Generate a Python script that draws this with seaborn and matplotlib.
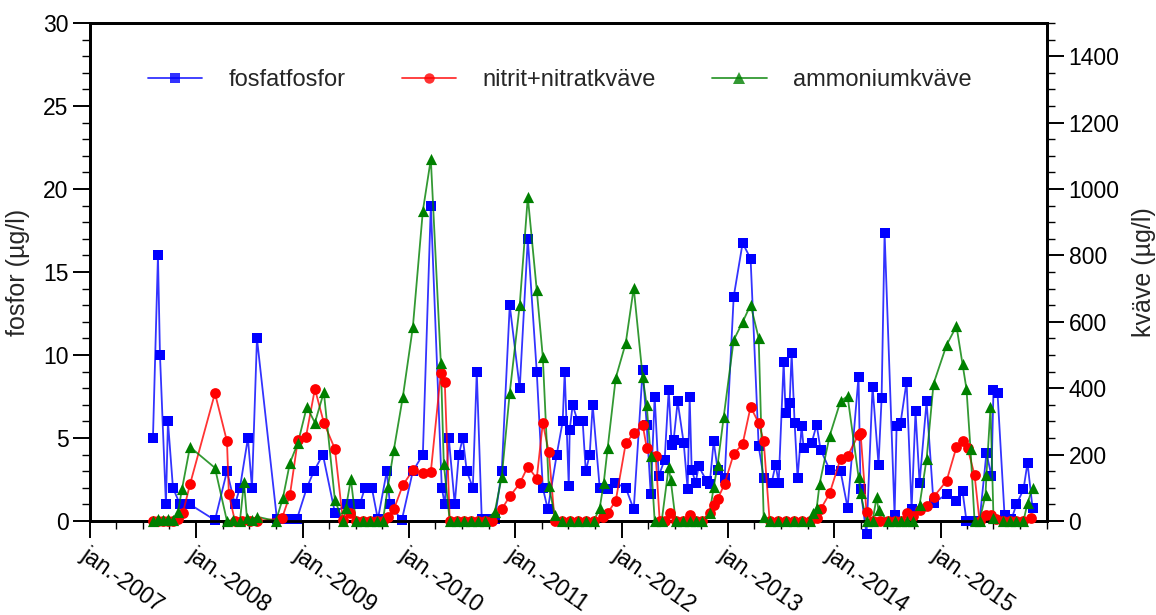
import numpy as np
import pandas as pd
import matplotlib
matplotlib.use("Agg")
import matplotlib.pyplot as plt
import matplotlib.dates as mdates
from matplotlib.lines import Line2D
import seaborn as sns

# ---------------- data (dates as decimal years) ----------------
fosfat_t = [2007.592, 2007.639, 2007.658, 2007.714, 2007.733, 2007.780, 2007.846, 2007.893, 2007.940,
            2008.175, 2008.288, 2008.363, 2008.410, 2008.485, 2008.523, 2008.570, 2008.758, 2008.852, 2008.945,
            2009.039, 2009.105, 2009.190, 2009.303, 2009.415, 2009.472, 2009.538, 2009.585, 2009.650, 2009.707,
            2009.791, 2009.820, 2009.932, 2010.036, 2010.130, 2010.205, 2010.308, 2010.336, 2010.374, 2010.430,
            2010.468, 2010.506, 2010.543, 2010.600, 2010.637, 2010.684, 2010.741, 2010.806, 2010.872, 2010.947,
            2011.041, 2011.117, 2011.201, 2011.258, 2011.305, 2011.389, 2011.445, 2011.464, 2011.502, 2011.511,
            2011.539, 2011.586, 2011.633, 2011.662, 2011.699, 2011.727, 2011.793, 2011.868, 2011.934, 2012.038,
            2012.113, 2012.197, 2012.235, 2012.273, 2012.310, 2012.348, 2012.404, 2012.442, 2012.470, 2012.489,
            2012.526, 2012.583, 2012.620, 2012.639, 2012.658, 2012.695, 2012.724, 2012.799, 2012.827, 2012.865,
            2012.902, 2012.968, 2013.053, 2013.137, 2013.212, 2013.288, 2013.335, 2013.410, 2013.447, 2013.476,
            2013.523, 2013.541, 2013.579, 2013.598, 2013.626, 2013.654, 2013.692, 2013.711, 2013.786, 2013.833,
            2013.870, 2013.955, 2014.058, 2014.124, 2014.227, 2014.246, 2014.302, 2014.359, 2014.415, 2014.444,
            2014.472, 2014.566, 2014.585, 2014.622, 2014.679, 2014.726, 2014.763, 2014.801, 2014.867, 2014.932,
            2015.055, 2015.148, 2015.205, 2015.242, 2015.299, 2015.365, 2015.430, 2015.477, 2015.496, 2015.534,
            2015.600, 2015.665, 2015.712, 2015.778, 2015.816, 2015.863]
fosfat_v = [5.0, 16.0, 10.0, 1.0, 6.0, 2.0, 1.0, 1.0, 1.0,
            0.05, 3.0, 1.0, 2.0, 5.0, 2.0, 11.0, 0.1, 0.1, 0.1,
            2.0, 3.0, 4.0, 0.5, 1.0, 1.0, 1.0, 2.0, 2.0, 0.1,
            3.0, 1.0, 0.05, 3.0, 4.0, 19.0, 2.0, 1.0, 5.0, 1.0,
            4.0, 5.0, 3.0, 2.0, 9.0, 0.1, 0.1, 0.1, 3.0, 13.0,
            8.0, 17.0, 9.0, 2.0, 0.7, 4.0, 6.0, 9.0, 2.1, 5.5,
            7.0, 6.0, 6.0, 3.0, 4.0, 7.0, 2.0, 1.9, 2.3, 2.0,
            0.7, 9.1, 5.8, 1.6, 7.5, 2.7, 3.7, 7.9, 4.6, 4.9,
            7.2, 4.7, 1.9, 7.5, 3.1, 2.3, 3.3, 2.4, 2.2, 4.8,
            3.1, 2.6, 13.5, 16.75, 15.8, 4.5, 2.6, 2.3, 3.4, 2.3,
            9.6, 6.5, 7.1, 10.1, 5.9, 2.6, 5.7, 4.4, 4.7, 5.8,
            4.3, 3.1, 3.0, 0.8, 8.7, 1.9, -0.8, 8.1, 3.4, 7.4,
            17.35, 0.35, 5.7, 5.9, 8.4, 0.7, 6.6, 2.3, 7.2, 1.1,
            1.6, 1.2, 1.8, 0.0, 0.0, 0.0, 4.1, 2.7, 7.9, 7.7,
            0.35, 0.1, 1.0, 1.9, 3.5, 0.8]

nitrat_t = [2007.592, 2007.639, 2007.686, 2007.733, 2007.780, 2007.827, 2007.874, 2007.940,
            2008.175, 2008.288, 2008.306, 2008.363, 2008.429, 2008.504, 2008.570, 2008.805, 2008.880, 2008.955,
            2009.030, 2009.115, 2009.199, 2009.303, 2009.378, 2009.444, 2009.500, 2009.566, 2009.632, 2009.697,
            2009.754, 2009.801, 2009.857, 2009.942, 2010.036, 2010.130, 2010.205, 2010.299, 2010.336, 2010.383,
            2010.449, 2010.515, 2010.581, 2010.647, 2010.712, 2010.778, 2010.872, 2010.947, 2011.041, 2011.117,
            2011.201, 2011.258, 2011.314, 2011.370, 2011.436, 2011.511, 2011.586, 2011.662, 2011.737, 2011.821,
            2011.868, 2011.944, 2012.038, 2012.113, 2012.197, 2012.235, 2012.320, 2012.357, 2012.404, 2012.451,
            2012.508, 2012.573, 2012.639, 2012.695, 2012.752, 2012.827, 2012.865, 2012.902, 2012.968, 2013.053,
            2013.137, 2013.212, 2013.288, 2013.335, 2013.391, 2013.466, 2013.541, 2013.617, 2013.692, 2013.767,
            2013.833, 2013.870, 2013.955, 2014.058, 2014.124, 2014.227, 2014.246, 2014.302, 2014.359, 2014.425,
            2014.500, 2014.566, 2014.622, 2014.679, 2014.735, 2014.801, 2014.867, 2014.932, 2015.055, 2015.148,
            2015.205, 2015.252, 2015.318, 2015.365, 2015.430, 2015.477, 2015.524, 2015.581, 2015.647, 2015.712,
            2015.778, 2015.853]
nitrat_v = [0, 0, 0, 0, 0, 5, 25, 110,
            385, 240, 80, 0, 0, 0, 0, 8, 78, 245,
            252, 398, 296, 217, 3, 24, 0, 0, 0, 0,
            0, 12, 35, 108, 153, 144, 148, 445, 420, 0,
            0, 0, 0, 0, 0, 0, 36, 74, 113, 164,
            128, 295, 209, 0, 0, 0, 0, 0, 0, 13,
            24, 61, 234, 264, 290, 221, 195, 0, 0, 24,
            0, 0, 18, 0, 0, 24, 47, 66, 112, 202,
            232, 344, 295, 242, 0, 0, 0, 0, 0, 0,
            8, 35, 83, 188, 196, 260, 265, 26, 0, 0,
            0, 0, 0, 24, 15, 33, 45, 72, 121, 223,
            241, 220, 139, 0, 18, 18, 5, 0, 0, 0,
            0, 9]

ammonium_t = [2007.592, 2007.639, 2007.686, 2007.733, 2007.780, 2007.827, 2007.865, 2007.940,
              2008.175, 2008.288, 2008.345, 2008.410, 2008.448, 2008.476, 2008.523, 2008.570, 2008.748, 2008.814,
              2008.880, 2008.955, 2009.039, 2009.115, 2009.199, 2009.303, 2009.378, 2009.406, 2009.453, 2009.500,
              2009.566, 2009.632, 2009.697, 2009.754, 2009.801, 2009.857, 2009.942, 2010.036, 2010.130, 2010.205,
              2010.299, 2010.327, 2010.383, 2010.449, 2010.515, 2010.581, 2010.647, 2010.712, 2010.806, 2010.872,
              2010.947, 2011.041, 2011.117, 2011.201, 2011.258, 2011.314, 2011.370, 2011.436, 2011.511, 2011.586,
              2011.662, 2011.737, 2011.793, 2011.831, 2011.868, 2011.944, 2012.038, 2012.113, 2012.197, 2012.235,
              2012.273, 2012.310, 2012.376, 2012.442, 2012.461, 2012.508, 2012.573, 2012.639, 2012.695, 2012.752,
              2012.827, 2012.865, 2012.902, 2012.959, 2013.053, 2013.137, 2013.212, 2013.288, 2013.335, 2013.391,
              2013.466, 2013.541, 2013.617, 2013.692, 2013.767, 2013.795, 2013.833, 2013.861, 2013.955, 2014.058,
              2014.124, 2014.227, 2014.246, 2014.302, 2014.359, 2014.397, 2014.415, 2014.500, 2014.566, 2014.622,
              2014.679, 2014.735, 2014.801, 2014.867, 2014.932, 2015.055, 2015.148, 2015.205, 2015.242, 2015.280,
              2015.318, 2015.365, 2015.421, 2015.430, 2015.468, 2015.496, 2015.581, 2015.647, 2015.712, 2015.778,
              2015.816, 2015.863]
ammonium_v = [0, 5, 2, 5, 3, 27, 96, 223,
              160, 0, 3, 0, 117, 8, 3, 13, 0, 69,
              175, 235, 344, 296, 388, 63, 0, 38, 126, 0,
              0, 0, 0, 0, 102, 214, 374, 584, 934, 1090,
              476, 172, 0, 0, 0, 0, 0, 0, 27, 133,
              386, 651, 976, 696, 494, 105, 18, 0, 0, 0,
              0, 0, 38, 115, 220, 431, 536, 702, 434, 349,
              195, 0, 0, 163, 123, 0, 0, 0, 0, 0,
              24, 102, 169, 313, 545, 599, 651, 551, 12, 0,
              0, 0, 0, 0, 0, 24, 38, 112, 256, 361,
              376, 133, 84, 0, 0, 72, 33, 0, 0, 0,
              0, 0, 48, 187, 413, 530, 587, 473, 398, 217,
              0, 0, 78, 139, 343, 9, 0, 0, 0, 0,
              54, 99]

tick_years = [2007, 2008, 2009, 2010, 2011, 2012, 2013, 2014, 2015]
tick_labels = ["jan.-2007", "jan.-2008", "jan.-2009", "jan.-2010", "jan.-2011",
               "jan.-2012", "jan.-2013", "jan.-2014", "jan.-2015"]
series_names = ["fosfatfosfor", "nitrit+nitratkväve", "ammoniumkväve"]


def to_dates(years):
    y = np.asarray(years, dtype=float)
    return pd.Timestamp("2007-01-01") + pd.to_timedelta((y - 2007) * 365.25, unit="D")


df_p = pd.DataFrame({"date": to_dates(fosfat_t), "value": fosfat_v})
df_n = pd.DataFrame({"date": to_dates(nitrat_t), "value": nitrat_v})
df_a = pd.DataFrame({"date": to_dates(ammonium_t), "value": ammonium_v})

# ---------------- style ----------------
sns.set_style("ticks")
plt.rcParams["font.family"] = ["Liberation Sans", "DejaVu Sans"]
plt.rcParams["axes.linewidth"] = 2.0

BLUE, RED, GREEN = "#0000ff", "#ff0000", "#008000"

fig = plt.figure(figsize=(11.56, 6.15), dpi=100)
ax = fig.add_axes([90 / 1156, 1 - 521 / 615, (1047 - 90) / 1156, (521 - 23) / 615])
ax2 = ax.twinx()

# phosphate on left axis
sns.lineplot(data=df_p, x="date", y="value", ax=ax, color=BLUE, lw=1.3, alpha=0.8,
             estimator=None, sort=False, clip_on=False)
sns.scatterplot(data=df_p, x="date", y="value", ax=ax, color=BLUE, marker="s", s=55,
                linewidth=0, clip_on=False, zorder=3)

# nitrogen on right axis
sns.lineplot(data=df_n, x="date", y="value", ax=ax2, color=RED, lw=1.3, alpha=0.8,
             estimator=None, sort=False, clip_on=False)
sns.scatterplot(data=df_n, x="date", y="value", ax=ax2, color=RED, marker="o", s=60,
                linewidth=0, clip_on=False, zorder=3)
sns.lineplot(data=df_a, x="date", y="value", ax=ax2, color=GREEN, lw=1.3, alpha=0.8,
             estimator=None, sort=False, clip_on=False)
sns.scatterplot(data=df_a, x="date", y="value", ax=ax2, color=GREEN, marker="^", s=65,
                linewidth=0, clip_on=False, zorder=3)

# ---------------- axes ----------------
xmin, xmax = pd.Timestamp("2007-01-01"), pd.Timestamp("2016-01-01")
ax.set_xlim(xmin, xmax)
ax.set_ylim(0, 30)
ax2.set_ylim(0, 1500)

ax.set_yticks(np.arange(0, 31, 5))
ax.yaxis.set_minor_locator(matplotlib.ticker.MultipleLocator(1))
ax2.set_yticks(np.arange(0, 1401, 200))
ax2.yaxis.set_minor_locator(matplotlib.ticker.MultipleLocator(50))

ax.set_xticks([pd.Timestamp(f"{y}-01-01") for y in tick_years])
ax.set_xticklabels(tick_labels)
ax.xaxis.set_minor_locator(mdates.MonthLocator(bymonth=[1, 4, 7, 10]))

for a in (ax, ax2):
    a.tick_params(which="major", length=12, width=1.4, direction="out", labelsize=16.5, colors="black")
    a.tick_params(which="minor", length=6, width=1.0, direction="out", colors="black")
    for sp in a.spines.values():
        sp.set_visible(True)
        sp.set_linewidth(2.0)
        sp.set_color("black")

ax.tick_params(axis="x", pad=4)
for lbl in ax.get_xticklabels():
    lbl.set_rotation(-35)
    lbl.set_ha("left")
    lbl.set_va("top")
    lbl.set_rotation_mode("anchor")

ax.set_xlabel("")
ax.set_ylabel("fosfor (µg/l)", fontsize=18, labelpad=9)
ax2.set_ylabel("kväve (µg/l)", fontsize=18, labelpad=9)

# legend
handles = [
    Line2D([], [], color=BLUE, lw=1.3, alpha=0.8, marker="s", markersize=7,
           markerfacecolor=BLUE, markeredgewidth=0),
    Line2D([], [], color=RED, lw=1.3, alpha=0.8, marker="o", markersize=7.5,
           markerfacecolor=RED, markeredgewidth=0),
    Line2D([], [], color=GREEN, lw=1.3, alpha=0.8, marker="^", markersize=8,
           markerfacecolor=GREEN, markeredgewidth=0),
]
leg = ax2.legend(handles, series_names, ncol=3, frameon=False, fontsize=17,
                 loc="center left", bbox_to_anchor=((148 - 90) / 957, (521 - 80) / 498),
                 borderaxespad=0, borderpad=0, handlelength=2.3, handletextpad=1.1,
                 columnspacing=2.4)

fig.savefig("out.png", dpi=100)
